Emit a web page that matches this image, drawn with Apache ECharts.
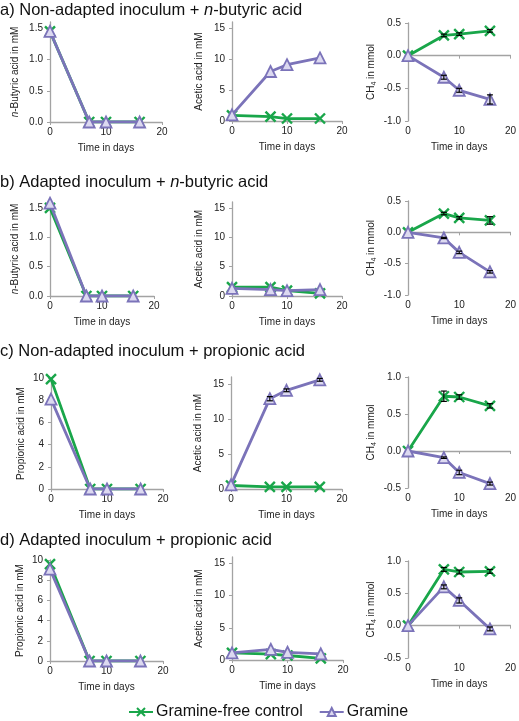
<!DOCTYPE html>
<html>
<head>
<meta charset="utf-8">
<script src="https://cdn.jsdelivr.net/npm/echarts@6/dist/echarts.min.js"></script>
<style>
html,body{margin:0;padding:0;background:#fff;}
#chart{width:519px;height:721px;}
</style>
</head>
<body>
<div id="chart"></div>
<script>
// ---------------- DATA ----------------
const days = [0, 7, 10, 16];
const xTicks = [0, 10, 20];

const butyricTicks = [0, 0.5, 1.0, 1.5];
const aceticTicks = [0, 5, 10, 15];
const ch4Ticks = [-1.0, -0.5, 0.0, 0.5];
const ch4TicksCD = [-0.5, 0.0, 0.5, 1.0];
const propionicTicks = [0, 2, 4, 6, 8, 10];

const seriesNames = ['Gramine-free control', 'Gramine'];

// a) Non-adapted inoculum + n-butyric acid
const aButyricControl = [1.45, 0, 0, 0];
const aButyricGramine = [1.45, 0, 0, 0];
const aAceticControl = [0.9, 0.7, 0.4, 0.4];
const aAceticGramine = [1.0, 8.0, 9.1, 10.2];
const aCH4Control = [0, 0.31, 0.33, 0.38];
const aCH4Gramine = [0, -0.33, -0.53, -0.67];
const aCH4ControlErr = [0, 0.02, 0.02, 0.02];
const aCH4GramineErr = [0, 0.03, 0.03, 0.07];

// b) Adapted inoculum + n-butyric acid
const bButyricControl = [1.5, 0, 0, 0];
const bButyricGramine = [1.58, 0, 0, 0];
const bAceticControl = [1.5, 1.5, 0.9, 0.45];
const bAceticGramine = [1.3, 1.1, 0.9, 1.1];
const bCH4Control = [0, 0.3, 0.23, 0.19];
const bCH4Gramine = [0, -0.09, -0.32, -0.63];
const bCH4ControlErr = [0, 0.02, 0.02, 0.06];
const bCH4GramineErr = [0, 0.01, 0.02, 0.02];

// c) Non-adapted inoculum + propionic acid
const cPropionicControl = [9.9, 0, 0, 0];
const cPropionicGramine = [8.1, 0, 0, 0];
const cAceticControl = [0.5, 0.3, 0.3, 0.3];
const cAceticGramine = [0.6, 12.9, 14.1, 15.6];
const cAceticGramineErr = [0, 0.3, 0.2, 0.2];
const cCH4Control = [0, 0.74, 0.73, 0.61];
const cCH4Gramine = [0, -0.09, -0.29, -0.44];
const cCH4ControlErr = [0, 0.07, 0.03, 0.03];
const cCH4GramineErr = [0, 0.01, 0.03, 0.02];

// d) Adapted inoculum + propionic acid
const dPropionicControl = [9.6, 0, 0, 0];
const dPropionicGramine = [9.1, 0, 0, 0];
const dAceticControl = [1.1, 0.9, 0.7, 0.25];
const dAceticGramine = [1.1, 1.65, 1.2, 0.95];
const dCH4Control = [0, 0.87, 0.83, 0.84];
const dCH4Gramine = [0, 0.6, 0.39, -0.05];
const dCH4ControlErr = [0, 0.03, 0.03, 0.03];
const dCH4GramineErr = [0, 0.03, 0.04, 0.03];

const titles = [
  { text: 'a) Non-adapted inoculum + {i|n}-butyric acid', top: 2 },
  { text: 'b) Adapted inoculum + {i|n}-butyric acid', top: 174 },
  { text: 'c) Non-adapted inoculum + propionic acid', top: 343 },
  { text: 'd) Adapted inoculum + propionic acid', top: 532 }
];

// ---------------- STYLE / LAYOUT ----------------
const GREEN = '#19a64a';
const PURPLE = '#7b73b9';
const AXIS = '#a3a3a3';
const FONT = 'Liberation Sans, Arial, Helvetica, sans-serif';

const NAME_BUT = '{i|n}-Butyric acid in mM';
const NAME_ACE = 'Acetic acid in mM';
const NAME_PRO = 'Propionic acid in mM';
const NAME_CH4 = '{b|CH}{s|4}{b| in mmol}';

const panels = [
  { grid: {left: 50, top: 22, width: 112, height: 100}, min: 0, max: 1.6, ticks: butyricTicks, dec: 1, name: NAME_BUT, gap: 30, ctrl: aButyricControl, gram: aButyricGramine },
  { grid: {left: 232, top: 22, width: 110, height: 99}, min: 0, max: 16, ticks: aceticTicks, dec: 0, name: NAME_ACE, gap: 28, ctrl: aAceticControl, gram: aAceticGramine },
  { grid: {left: 408, top: 23, width: 105, height: 98}, min: -1, max: 0.5, ticks: ch4Ticks, dec: 1, name: NAME_CH4, gap: 30, ctrl: aCH4Control, gram: aCH4Gramine, ctrlErr: aCH4ControlErr, gramErr: aCH4GramineErr },

  { grid: {left: 50, top: 202, width: 104, height: 94}, min: 0, max: 1.6, ticks: butyricTicks, dec: 1, name: NAME_BUT, gap: 30, ctrl: bButyricControl, gram: bButyricGramine },
  { grid: {left: 232, top: 202, width: 110, height: 94}, min: 0, max: 16, ticks: aceticTicks, dec: 0, name: NAME_ACE, gap: 28, ctrl: bAceticControl, gram: bAceticGramine },
  { grid: {left: 408, top: 201, width: 105, height: 94}, min: -1, max: 0.5, ticks: ch4Ticks, dec: 1, name: NAME_CH4, gap: 30, ctrl: bCH4Control, gram: bCH4Gramine, ctrlErr: bCH4ControlErr, gramErr: bCH4GramineErr },

  { grid: {left: 51, top: 378, width: 112, height: 111}, min: 0, max: 10, ticks: propionicTicks, dec: 0, name: NAME_PRO, gap: 25, ctrl: cPropionicControl, gram: cPropionicGramine },
  { grid: {left: 231, top: 377, width: 111, height: 112}, min: 0, max: 16, ticks: aceticTicks, dec: 0, name: NAME_ACE, gap: 28, ctrl: cAceticControl, gram: cAceticGramine, gramErr: cAceticGramineErr },
  { grid: {left: 408, top: 377, width: 105, height: 111}, min: -0.5, max: 1.0, ticks: ch4TicksCD, dec: 1, name: NAME_CH4, gap: 30, ctrl: cCH4Control, gram: cCH4Gramine, ctrlErr: cCH4ControlErr, gramErr: cCH4GramineErr },

  { grid: {left: 50, top: 560, width: 113, height: 101}, min: 0, max: 10, ticks: propionicTicks, dec: 0, name: NAME_PRO, gap: 25, ctrl: dPropionicControl, gram: dPropionicGramine },
  { grid: {left: 232, top: 557, width: 111, height: 103}, min: 0, max: 16, ticks: aceticTicks, dec: 0, name: NAME_ACE, gap: 28, ctrl: dAceticControl, gram: dAceticGramine },
  { grid: {left: 408, top: 561, width: 105, height: 97}, min: -0.5, max: 1.0, ticks: ch4TicksCD, dec: 1, name: NAME_CH4, gap: 30, ctrl: dCH4Control, gram: dCH4Gramine, ctrlErr: dCH4ControlErr, gramErr: dCH4GramineErr }
];

const X_SYMBOL = 'path://M0,0L10,10M10,0L0,10';

const grids = [], xAxes = [], nameAxes = [], yAxes = [], series = [], errSeries = [];

function pairs(vals) { return days.map((d, i) => [d, vals[i]]); }

function errRender(params, api) {
  const x = api.value(0), y = api.value(1), e = api.value(2);
  if (!e) return null;
  const top = api.coord([x, y + e]);
  const bot = api.coord([x, y - e]);
  const w = 3;
  const st = { stroke: '#000', lineWidth: 1.2 };
  return {
    type: 'group',
    children: [
      { type: 'line', shape: { x1: top[0], y1: top[1], x2: bot[0], y2: bot[1] }, style: st },
      { type: 'line', shape: { x1: top[0] - w, y1: top[1], x2: top[0] + w, y2: top[1] }, style: st },
      { type: 'line', shape: { x1: bot[0] - w, y1: bot[1], x2: bot[0] + w, y2: bot[1] }, style: st }
    ]
  };
}

panels.forEach((p, i) => {
  grids.push(Object.assign({ containLabel: false }, p.grid));
  xAxes.push({
    gridIndex: i, type: 'value', min: 0, max: 20, interval: 10, position: 'bottom',
    axisLine: { show: true, onZero: true, lineStyle: { color: AXIS, width: 1.3 } },
    axisTick: { show: true, length: 3, inside: false, lineStyle: { color: AXIS } },
    axisLabel: { fontSize: 10, color: '#222', fontFamily: FONT, margin: 5, customValues: xTicks },
    splitLine: { show: false }
  });
  // name-only axis at the bottom of the plot area
  nameAxes.push({
    gridIndex: i, type: 'value', min: 0, max: 20, position: 'bottom', offset: 0,
    axisLine: { show: false, onZero: false }, axisTick: { show: false },
    axisLabel: { show: false }, splitLine: { show: false },
    name: 'Time in days', nameLocation: 'middle', nameGap: 21,
    nameTextStyle: { fontSize: 10, color: '#222', fontFamily: FONT }
  });
  yAxes.push({
    gridIndex: i, type: 'value', min: p.min, max: p.max,
    axisLine: { show: true, onZero: true, lineStyle: { color: AXIS, width: 1.3 } },
    axisTick: { show: true, length: 3, inside: false, lineStyle: { color: AXIS }, customValues: p.ticks },
    axisLabel: { fontSize: 10, color: '#222', fontFamily: FONT, margin: 7, customValues: p.ticks,
      formatter: v => Number(v).toFixed(p.dec) },
    splitLine: { show: false },
    name: p.name, nameLocation: 'middle', nameGap: p.gap, nameRotate: 90,
    nameTextStyle: {
      fontSize: 10, color: '#222', fontFamily: FONT,
      rich: {
        i: { fontStyle: 'italic', fontSize: 10, color: '#222', fontFamily: FONT },
        b: { fontSize: 10, color: '#222', fontFamily: FONT, lineHeight: 14 },
        s: { fontSize: 7, color: '#222', fontFamily: FONT, lineHeight: 8, verticalAlign: 'bottom' }
      }
    }
  });
  series.push({
    name: seriesNames[0], type: 'line', xAxisIndex: i, yAxisIndex: i,
    data: pairs(p.ctrl), symbol: X_SYMBOL, symbolSize: 10, showAllSymbol: true,
    lineStyle: { color: GREEN, width: 2.8 },
    itemStyle: { color: GREEN, borderColor: GREEN, borderWidth: 2.4 },
    z: 2
  });
  series.push({
    name: seriesNames[1], type: 'line', xAxisIndex: i, yAxisIndex: i,
    data: pairs(p.gram), symbol: 'triangle', symbolSize: 11, showAllSymbol: true,
    lineStyle: { color: PURPLE, width: 2.8 },
    itemStyle: { color: '#dcd9f0', borderColor: PURPLE, borderWidth: 1.8 },
    z: 3
  });
  [[p.ctrl, p.ctrlErr], [p.gram, p.gramErr]].forEach(([vals, errs]) => {
    if (!errs) return;
    errSeries.push({
      type: 'custom', xAxisIndex: i, yAxisIndex: i,
      data: days.map((d, k) => [d, vals[k], errs[k]]),
      renderItem: errRender, encode: { x: 0, y: 1 }, z: 10, silent: true
    });
  });
});

const option = {
  animation: false,
  backgroundColor: '#fff',
  textStyle: { fontFamily: FONT },
  title: titles.map(t => ({
    text: t.text, left: 0, top: t.top, padding: 0,
    textStyle: {
      fontSize: 16.5, fontWeight: 'normal', color: '#111', fontFamily: FONT,
      rich: { i: { fontSize: 16.5, fontStyle: 'italic', color: '#111', fontFamily: FONT } }
    }
  })),
  legend: {
    data: seriesNames, left: 128, top: 704, padding: 0,
    itemWidth: 24, itemHeight: 10, itemGap: 16,
    textStyle: { fontSize: 16, color: '#111', fontFamily: FONT, padding: [0, 0, 0, -2] }
  },
  grid: grids, xAxis: xAxes.concat(nameAxes), yAxis: yAxes,
  series: series.concat(errSeries)
};

const chart = echarts.init(document.getElementById('chart'), null, { renderer: 'canvas' });
chart.setOption(option);
</script>
</body>
</html>
